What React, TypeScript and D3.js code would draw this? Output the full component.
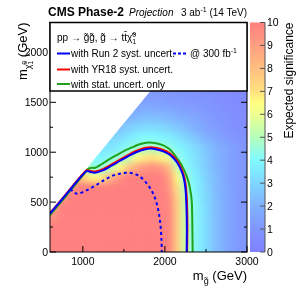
import React from 'react';
import * as d3 from 'd3';

// bin edges of the significance map (GeV)
const mGluinoEdges = [600, 700, 800, 900, 1000, 1100, 1200, 1300, 1400, 1500, 1600, 1700, 1800, 1900, 2000, 2100, 2200, 2300, 2400, 2500, 2600, 2700, 2800, 2900, 3000];
const mLspEdges = [0, 100, 200, 300, 400, 500, 600, 700, 800, 900, 1000, 1100, 1200, 1300, 1400, 1500, 1600, 1700];

// expected significance, one row per m_LSP bin (bottom to top),
// each row runs from the kinematic edge to m_gluino = 3000
const sigRows = [
  [10, 10, 10, 10, 10, 10, 10, 10, 10, 10, 10, 10, 10, 10, 9.8, 7.6, 5.4, 4.2, 3.5, 2.8, 2.2, 1.7, 1.3, 1.0],
  [10, 10, 10, 10, 10, 10, 10, 10, 10, 10, 10, 10, 10, 10, 9.8, 7.6, 5.4, 4.2, 3.5, 2.8, 2.2, 1.7, 1.3, 1.0],
  [10, 10, 10, 10, 10, 10, 10, 10, 10, 10, 10, 10, 10, 10, 9.8, 7.6, 5.4, 4.2, 3.5, 2.8, 2.2, 1.7, 1.3, 1.0],
  [9.5, 10, 10, 10, 10, 10, 10, 10, 10, 10, 10, 10, 10, 10, 9.8, 7.6, 5.4, 4.2, 3.5, 2.8, 2.2, 1.7, 1.3, 1.0],
  [9, 10, 10, 10, 10, 10, 10, 10, 10, 10, 10, 10, 10, 10, 9.8, 7.6, 5.3, 4.2, 3.5, 2.8, 2.2, 1.7, 1.3, 1.0],
  [9, 10, 10, 10, 10, 10, 10, 10, 10, 10, 10, 10, 10, 9.7, 7.4, 5.2, 4.1, 3.4, 2.8, 2.2, 1.7, 1.3, 1.0],
  [9, 10, 10, 10, 10, 10, 10, 10, 10, 10, 10, 10, 9.3, 7.0, 4.9, 4.0, 3.3, 2.7, 2.1, 1.7, 1.3, 1.0],
  [8, 7, 6.5, 7.0, 8.4, 9.5, 10, 10, 10, 10, 10, 9.0, 6.6, 4.6, 3.8, 3.2, 2.6, 2.1, 1.6, 1.3, 1.0],
  [5, 4.3, 4.6, 5.4, 6.5, 7.7, 8.7, 9.3, 9.5, 9.2, 8.2, 5.5, 4.2, 3.6, 3.0, 2.5, 2.0, 1.6, 1.3, 1.0],
  [4.0, 3.8, 4.2, 4.6, 5.2, 6.2, 6.8, 7.0, 6.7, 6.0, 4.5, 3.9, 3.4, 2.9, 2.4, 2.0, 1.6, 1.3, 1.0],
  [3.5, 3.4, 3.8, 4.2, 4.6, 4.8, 4.9, 4.7, 4.4, 4.0, 3.6, 3.2, 2.8, 2.3, 1.9, 1.6, 1.3, 1.0],
  [3.0, 3.1, 3.5, 3.8, 4.0, 4.0, 3.9, 3.7, 3.4, 3.0, 2.6, 2.2, 1.8, 1.5, 1.2, 1.0, 0.8],
  [2.4, 2.8, 3.0, 3.2, 3.2, 3.1, 2.9, 2.6, 2.3, 2.0, 1.7, 1.4, 1.2, 1.0, 0.8, 0.7],
  [2.0, 2.2, 2.4, 2.4, 2.3, 2.2, 2.0, 1.8, 1.6, 1.4, 1.2, 1.0, 0.9, 0.7, 0.6],
  [1.6, 1.7, 1.7, 1.6, 1.5, 1.4, 1.3, 1.2, 1.1, 1.0, 0.9, 0.7, 0.6, 0.5],
  [1.2, 1.2, 1.2, 1.1, 1.1, 1.0, 1.0, 0.9, 0.8, 0.7, 0.6, 0.5, 0.5],
  [1.0, 1.0, 0.9, 0.9, 0.8, 0.8, 0.7, 0.7, 0.6, 0.5, 0.5, 0.4],
];

// kinematic edge of the map (upper-left boundary)
const kinematicEdge = [[600, 390], [2510, 2300]];

// 5 sigma contours [m_gluino, m_LSP]
const run2Contour = [[600, 385], [700, 482], [800, 580], [900, 680], [1000, 775], [1050, 812], [1100, 800], [1150, 795], [1250, 820], [1350, 865], [1450, 912], [1550, 958], [1650, 1000], [1750, 1028], [1820, 1036], [1900, 1028], [1980, 1008], [2050, 980], [2100, 945], [2150, 895], [2200, 815], [2230, 740], [2248, 650], [2258, 540], [2264, 400], [2267, 250], [2266, 100], [2265, 0]];
const yr18Contour = [[600, 390], [700, 487], [800, 585], [900, 685], [1000, 782], [1050, 820], [1100, 810], [1150, 806], [1250, 832], [1350, 878], [1450, 925], [1550, 972], [1650, 1014], [1750, 1042], [1820, 1050], [1900, 1042], [1980, 1022], [2050, 995], [2100, 960], [2150, 912], [2200, 835], [2235, 755], [2255, 660], [2266, 545], [2272, 400], [2274, 250], [2272, 100], [2270, 0]];
const statContour = [[600, 370], [700, 468], [800, 566], [900, 668], [1000, 768], [1060, 830], [1100, 842], [1150, 845], [1209, 870], [1300, 918], [1412, 971], [1500, 1012], [1615, 1054], [1700, 1082], [1798, 1098], [1880, 1093], [1980, 1068], [2050, 1035], [2103, 988], [2160, 925], [2204, 870], [2240, 810], [2265, 760], [2295, 680], [2315, 590], [2326, 519], [2332, 380], [2335, 200], [2337, 80], [2338, 0]];
const run2Lumi300Contour = [[850, 635], [880, 605], [920, 585], [960, 588], [1050, 620], [1150, 665], [1250, 715], [1350, 760], [1450, 785], [1530, 795], [1600, 790], [1680, 765], [1750, 715], [1820, 640], [1870, 560], [1905, 470], [1930, 370], [1948, 250], [1958, 120], [1962, 0]];

const xTicks = [1000, 2000, 3000];
const xMinorTicks = [1500, 2500];
const yTicks = [0, 500, 1000, 1500, 2000];
const yMinorTicks = [250, 750, 1250, 1750, 2250];
const zTicks = [0, 1, 2, 3, 4, 5, 6, 7, 8, 9, 10];

// washed-out rainbow palette
const paletteStops = [0, 1, 2, 3, 4, 5, 6, 6.5, 7, 8, 9, 10];
const paletteColors = ['#8080ff', '#8096ff', '#80b2ff', '#80d6ff', '#80faff', '#b4ffbc', '#eeff90', '#ffff80', '#ffe080', '#ffbf80', '#ff9f80', '#ff8080'];

const FONT = '"Liberation Sans", Arial, Helvetica, sans-serif';

export default function App() {
  const left = 50, right = 247, top = 22.5, bottom = 252;
  const x = d3.scaleLinear().domain([600, 3000]).range([left, right]);
  const y = d3.scaleLinear().domain([0, 2300]).range([bottom, top]);
  const color = d3.scaleLinear<string>().domain(paletteStops).range(paletteColors).clamp(true);
  const zBar = d3.scaleLinear().domain([0, 10]).range([bottom, top]);

  const line = d3.line<number[]>()
    .x(d => x(d[0]))
    .y(d => y(d[1]))
    .curve(d3.curveCatmullRom.alpha(0.5));

  const nCols = mGluinoEdges.length - 1;
  const cells: { x0: number; x1: number; y0: number; y1: number; v: number }[] = [];
  sigRows.forEach((row, k) => {
    const offset = nCols - row.length;
    row.forEach((v, j) => {
      const c = offset + j;
      cells.push({ x0: mGluinoEdges[c], x1: mGluinoEdges[c + 1], y0: mLspEdges[k], y1: mLspEdges[k + 1], v });
    });
  });

  const [xd0, xd1] = x.domain();
  const allowed = [[xd0, 0], [xd0, kinematicEdge[0][1]], kinematicEdge[1], [xd1, kinematicEdge[1][1]], [xd1, 0]];
  const allowedPath = 'M' + allowed.map(p => `${x(p[0])},${y(p[1])}`).join('L') + 'Z';

  const barX0 = 250, barX1 = 265;

  return (
    <svg width={305} height={293} style={{ position: 'fixed', left: 0, top: 0, fontFamily: FONT }}>
      <defs>
        <clipPath id="allowed"><path d={allowedPath} /></clipPath>
        <clipPath id="frame"><rect x={left} y={top} width={right - left} height={bottom - top} /></clipPath>
        <filter id="smooth" filterUnits="userSpaceOnUse" x={left} y={top} width={right - left} height={bottom - top} colorInterpolationFilters="sRGB">
          <feGaussianBlur stdDeviation="3.2" />
          <feColorMatrix type="matrix" values="1 0 0 0 0  0 1 0 0 0  0 0 1 0 0  0 0 0 0 1" />
        </filter>
        <linearGradient id="zbar" x1="0" y1="1" x2="0" y2="0">
          {paletteStops.map((s, i) => (
            <stop key={i} offset={s / 10} stopColor={paletteColors[i]} />
          ))}
        </linearGradient>
      </defs>

      {/* significance map */}
      <g clipPath="url(#allowed)">
        <g filter="url(#smooth)">
          {cells.map((c, i) => (
            <rect key={i} x={x(c.x0)} y={y(c.y1)} width={x(c.x1) - x(c.x0) + 0.4} height={y(c.y0) - y(c.y1) + 0.4} fill={color(c.v)} />
          ))}
        </g>
      </g>

      {/* contours */}
      <g clipPath="url(#frame)" fill="none" strokeWidth={2}>
        <path d={line(statContour) ?? ''} stroke="#1fa31f" />
        <path d={line(yr18Contour) ?? ''} stroke="#ff0000" />
        <path d={line(run2Contour) ?? ''} stroke="#0000ff" />
        <path d={line(run2Lumi300Contour) ?? ''} stroke="#0000ff" strokeDasharray="3,3" />
      </g>

      {/* frame and ticks */}
      <rect x={left} y={top} width={right - left} height={bottom - top} fill="none" stroke="#000" strokeWidth={1} />
      {xTicks.map(t => (
        <g key={'x' + t}>
          <line x1={x(t)} x2={x(t)} y1={bottom} y2={bottom - 6} stroke="#000" />
          <text x={x(t)} y={bottom + 13} fontSize={10.5} textAnchor="middle">{t}</text>
        </g>
      ))}
      {xMinorTicks.map(t => (
        <line key={'xm' + t} x1={x(t)} x2={x(t)} y1={bottom} y2={bottom - 3} stroke="#000" />
      ))}
      {yTicks.map(t => (
        <g key={'y' + t}>
          <line x1={left} x2={left + 6} y1={y(t)} y2={y(t)} stroke="#000" />
          <line x1={right} x2={right - 6} y1={y(t)} y2={y(t)} stroke="#000" />
          <text x={left - 2} y={y(t) + 3.8} fontSize={10.5} textAnchor="end">{t}</text>
        </g>
      ))}
      {yMinorTicks.map(t => (
        <g key={'ym' + t}>
          <line x1={left} x2={left + 3} y1={y(t)} y2={y(t)} stroke="#000" />
          <line x1={right} x2={right - 3} y1={y(t)} y2={y(t)} stroke="#000" />
        </g>
      ))}

      {/* axis titles */}
      <text x={right} y={280} fontSize={13} textAnchor="end">
        m<tspan fontSize={9} dy={4}>g&#771;</tspan><tspan dy={-4}> (GeV)</tspan>
      </text>
      <text transform={`translate(27,${top}) rotate(-90)`} fontSize={13} textAnchor="end">
        m<tspan fontSize={9} dy={4}>χ&#771;</tspan><tspan fontSize={6.5} dy={-4}>0</tspan><tspan fontSize={6.5} dx={-3.6} dy={6}>1</tspan><tspan dy={-6}> (GeV)</tspan>
      </text>

      {/* colour bar */}
      <rect x={barX0} y={top} width={barX1 - barX0} height={bottom - top} fill="url(#zbar)" />
      <line x1={barX1} x2={barX1} y1={top} y2={bottom} stroke="#555" />
      {zTicks.map(t => (
        <g key={'z' + t}>
          <line x1={barX1} x2={barX1 - 5} y1={zBar(t)} y2={zBar(t)} stroke="#555" />
          <text x={barX1 + 2} y={zBar(t) + 3.8} fontSize={10.5}>{t}</text>
        </g>
      ))}
      <text transform={`translate(293,${top}) rotate(-90)`} fontSize={12} textAnchor="end">Expected significance</text>

      {/* legend */}
      <rect x={left} y={top} width={right - left} height={91 - top} fill="#fff" stroke="#000" strokeWidth={1.5} />
      <text x={57} y={40.5} fontSize={10}>
        pp → g&#771;g&#771;, g&#771; → tt&#772;χ&#771;<tspan fontSize={7} dy={-4}>0</tspan><tspan fontSize={7} dx={-3.9} dy={7}>1</tspan>
      </text>
      <line x1={57} x2={70} y1={53.5} y2={53.5} stroke="#0000ff" strokeWidth={2} />
      <text x={71} y={57} fontSize={10}>with Run 2 syst. uncert.</text>
      <line x1={173} x2={188} y1={53.5} y2={53.5} stroke="#0000ff" strokeWidth={2} strokeDasharray="3,2" />
      <text x={190} y={57} fontSize={10}>@ 300 fb<tspan fontSize={7} dy={-4}>-1</tspan></text>
      <line x1={57} x2={70} y1={69.5} y2={69.5} stroke="#ff0000" strokeWidth={2} />
      <text x={71} y={73} fontSize={10}>with YR18 syst. uncert.</text>
      <line x1={57} x2={70} y1={84} y2={84} stroke="#1fa31f" strokeWidth={2} />
      <text x={71} y={87.5} fontSize={10}>with stat. uncert. only</text>

      {/* header */}
      <text x={48} y={16} fontSize={12} fontWeight="bold">CMS Phase-2</text>
      <text x={129} y={16} fontSize={10} fontStyle="italic">Projection</text>
      <text x={right} y={16} fontSize={10} textAnchor="end">
        3 ab<tspan fontSize={7} dy={-4}>-1</tspan><tspan dy={4}> (14 TeV)</tspan>
      </text>
    </svg>
  );
}
